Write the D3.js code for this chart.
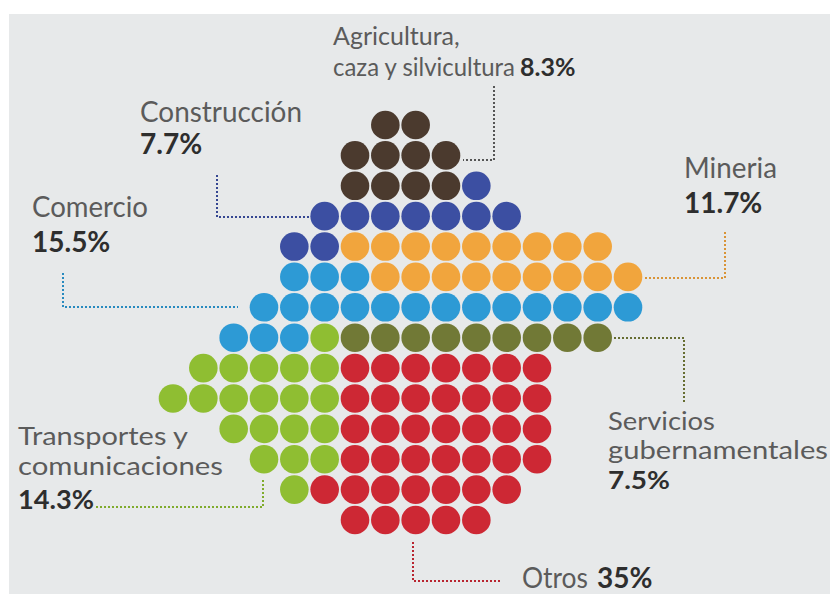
<!DOCTYPE html>
<html><head><meta charset="utf-8">
<script src="https://cdn.jsdelivr.net/npm/d3@7"></script>
<style>
html,body{margin:0;padding:0;background:#fff;}
svg{display:block;}
text{font-family:Lato,"Open Sans",sans-serif;}
</style></head>
<body>
<script>
// ---- data ----
const categories = ["agri","cons","min","com","trans","serv","otros"];
const catNames = ["Agricultura, caza y silvicultura","Construcción","Mineria","Comercio","Transportes y comunicaciones","Servicios gubernamentales","Otros"];
const catPercent = ["8.3%","7.7%","11.7%","15.5%","14.3%","7.5%","35%"];
const catColors = ["#4b3a2e","#3c4fa2","#f1a53d","#2d9ad5","#8fbe32","#717936","#cd2834"];
// grid rows: starting column and runs [category, count]
const rowStart = [7,6,6,5,4,4,3,2,1,0,2,3,4,6];
const rowRuns = [
  [["agri",2]],
  [["agri",4]],
  [["agri",4],["cons",1]],
  [["cons",7]],
  [["cons",2],["min",9]],
  [["com",3],["min",9]],
  [["com",13]],
  [["com",3],["trans",1],["serv",9]],
  [["trans",5],["otros",7]],
  [["trans",6],["otros",7]],
  [["trans",4],["otros",7]],
  [["trans",3],["otros",7]],
  [["trans",1],["otros",7]],
  [["otros",5]]
];

// ---- build dots ----
const dots = [];
rowRuns.forEach((runs, r) => {
  let c = rowStart[r];
  runs.forEach(([cat, n]) => {
    for (let i = 0; i < n; i++) dots.push({row: r, col: c++, cat});
  });
});

const W = 830, H = 594;
const svg = d3.select("body").append("svg").attr("width", W).attr("height", H);
svg.append("rect").attr("x", 9).attr("y", 14).attr("width", W - 9).attr("height", H - 14).attr("fill", "#e7e9ea");

const x = d3.scaleLinear().domain([0, 15]).range([173, 628]);
const y = d3.scaleLinear().domain([0, 13]).range([125, 520]);
const color = d3.scaleOrdinal().domain(categories).range(catColors);

svg.append("g").selectAll("circle").data(dots).join("circle")
  .attr("cx", d => x(d.col)).attr("cy", d => y(d.row)).attr("r", 14.3)
  .attr("fill", d => color(d.cat));

// ---- leader lines ----
const leaders = [
  {cat:"agri", c:"#555", pts:[[494,86],[494,160],[463,160]]},
  {cat:"cons", pts:[[217,175],[217,217],[309,217]]},
  {cat:"com", pts:[[63,273],[63,307],[238,307]]},
  {cat:"min", pts:[[725,232],[725,278],[644,278]]},
  {cat:"serv", pts:[[614,338],[684,338],[684,402]]},
  {cat:"trans", pts:[[96,507],[263,507],[263,478]]},
  {cat:"otros", pts:[[413,542],[413,581],[500,581]]}
];
const line = d3.line();
svg.append("g").selectAll("path").data(leaders).join("path")
  .attr("d", d => line(d.pts)).attr("fill", "none")
  .attr("stroke", d => d.c || d3.color(color(d.cat)).darker(0.3))
  .attr("stroke-width", 2).attr("stroke-dasharray", "2,2");

// ---- labels ----
function txt(xp, yp, s, size, bold, w) {
  const t = svg.append("text").attr("x", xp).attr("y", yp).attr("font-size", size)
    .attr("font-weight", bold ? 700 : 400).attr("fill", bold ? "#2e2e2e" : "#5b5b5b").text(s);
  if (w) t.attr("textLength", w).attr("lengthAdjust", "spacingAndGlyphs");
  return t;
}
txt(333, 45, "Agricultura,", 25, false);
txt(333, 76, "caza y silvicultura", 25, false, 182);
txt(520, 76, catPercent[0], 25, true);
txt(140, 122, "Construcción", 28, false, 162);
txt(140, 154, catPercent[1], 28, true);
txt(32, 217, "Comercio", 28, false, 116);
txt(32, 252, catPercent[3], 28, true);
txt(684, 178, "Mineria", 28, false, 93);
txt(684, 213, catPercent[2], 28, true);
txt(18, 445, "Transportes y", 25.5, false, 170);
txt(18, 475, "comunicaciones", 25.5, false, 205);
txt(18, 509, catPercent[4], 26, true, 76);
txt(608, 430, "Servicios", 25, false, 107);
txt(608, 459, "gubernamentales", 25, false, 220);
txt(608, 489, catPercent[5], 25.5, true, 62);
txt(522, 588, "Otros", 28, false, 66);
txt(597, 588, catPercent[6], 28, true);
</script>
</body></html>
